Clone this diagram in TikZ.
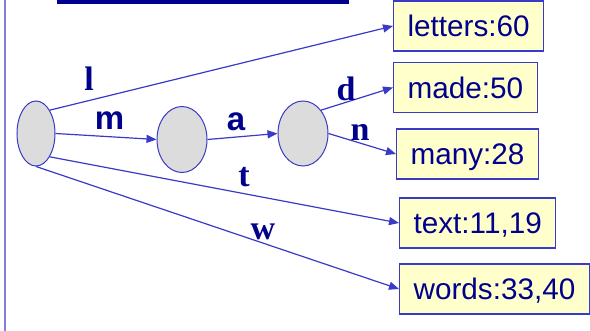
\documentclass[tikz,border=0pt]{standalone}
\usepackage{fontspec}
\setmainfont{Liberation Sans}
\newfontfamily\serifbold{Liberation Serif}[BoldFont={Liberation Serif Bold}]
\usetikzlibrary{shapes.geometric,arrows.meta}
\definecolor{navytext}{HTML}{00008C}
\definecolor{edgeblue}{HTML}{3A3AC8}
\definecolor{boxfill}{HTML}{FFFFCC}
\definecolor{nodegray}{HTML}{DCDCDC}
\definecolor{sideline}{HTML}{8080E0}
\tikzset{
  statenode/.style={ellipse, draw=edgeblue, fill=nodegray, line width=1pt, inner sep=0pt},
  wordbox/.style={rectangle, draw=edgeblue, fill=boxfill, line width=1.2pt, anchor=west,
    inner xsep=14pt, inner ysep=0pt, minimum height=50pt, text height=21.4pt, text depth=0pt,
    font=\fontsize{29.7}{30}\selectfont, text=navytext},
  edge/.style={draw=edgeblue, line width=1.2pt, -{Triangle[length=10pt,width=8pt]}},
  serlabel/.style={inner sep=0pt, text=navytext, font=\serifbold\bfseries\fontsize{34}{34}\selectfont},
  sanlabel/.style={inner sep=0pt, text=navytext, font=\bfseries\fontsize{33}{33}\selectfont}
}
\begin{document}
\begin{tikzpicture}[x=1pt,y=-1pt]
\useasboundingbox (0,0) rectangle (590,331);
\fill[white] (0,0) rectangle (590,331);
\draw[sideline, line width=2pt] (5,0) -- (5,331);
\fill[navytext] (57,0) rectangle (349,4);

\node[statenode, minimum width=38pt, minimum height=65pt] (s0) at (36,133.5) {};
\node[statenode, minimum width=50pt, minimum height=66pt] (s1) at (182,139.5) {};
\node[statenode, minimum width=50pt, minimum height=65pt] (s2) at (303,133.5) {};

\node[wordbox] (letters) at (393,26) {letters:60};
\node[wordbox] (made) at (393,87.5) {made:50};
\node[wordbox] (many) at (396,154) {many:28};
\node[wordbox] (text) at (399,223) {text:11,19};
\node[wordbox] (words) at (399,289) {words:33,40};

\draw[edge] (s0.north east) -- (letters.west);
\draw[edge] (s0.east) -- (s1.west);
\draw[edge] (s1.east) -- (s2.west);
\draw[edge] (s2.north east) -- (made.west);
\draw[edge] (s2.east) -- (many.west);
\draw[edge] (s0.south east) -- (text.west);
\draw[edge] (s0.south) -- (words.west);

\node[serlabel] (lab-l) at (89,79) {l};
\node[sanlabel] (lab-m) at (109.5,121) {m};
\node[sanlabel] (lab-a) at (236,121.5) {a};
\node[serlabel] (lab-d) at (346,89) {d};
\node[serlabel] (lab-n) at (360,132) {n};
\node[serlabel] (lab-t) at (244,177) {t};
\node[serlabel] (lab-w) at (263,232) {w};
\end{tikzpicture}
\end{document}
